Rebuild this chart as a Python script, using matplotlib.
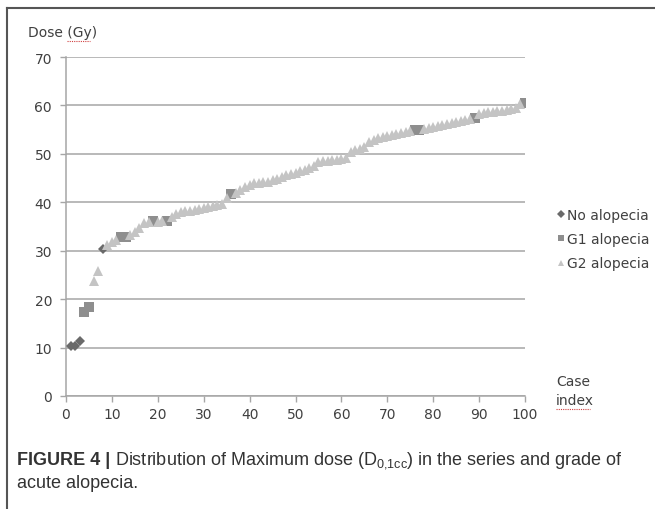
import matplotlib
matplotlib.use("Agg")
import matplotlib.pyplot as plt
from matplotlib.lines import Line2D

# ── Data ────────────────────────────────────────────────────────────────────
CASE_INDEX = list(range(1, 101))
DOSE_GY = [
    10.4, 10.4, 11.3, 17.3, 18.3, 23.8, 25.9, 30.4, 31.2, 31.8,
    32.3, 32.9, 32.9, 33.3, 33.9, 34.7, 35.8, 36.0, 36.2, 36.0,
    36.1, 36.2, 37.0, 37.5, 37.9, 38.1, 38.3, 38.5, 38.6, 38.8,
    39.1, 39.3, 39.4, 39.6, 40.8, 41.8, 42.0, 42.6, 43.2, 43.6,
    43.9, 44.0, 44.1, 44.2, 44.5, 44.9, 45.3, 45.6, 45.9, 46.1,
    46.4, 46.7, 47.0, 47.4, 48.4, 48.5, 48.6, 48.7, 48.8, 48.9,
    49.1, 50.3, 50.8, 51.1, 51.5, 52.4, 52.9, 53.2, 53.5, 53.7,
    53.9, 54.1, 54.3, 54.5, 54.7, 54.9, 54.9, 55.1, 55.3, 55.5,
    55.7, 55.9, 56.1, 56.3, 56.5, 56.7, 56.9, 57.1, 57.5, 58.3,
    58.5, 58.6, 58.7, 58.8, 58.9, 59.0, 59.2, 59.4, 60.2, 60.6,
]
# 0 = no alopecia, 1 = G1, 2 = G2
GRADE = [
    0, 0, 0, 1, 1, 2, 2, 0, 2, 2,
    2, 1, 1, 2, 2, 2, 2, 2, 1, 2,
    2, 1, 2, 2, 2, 2, 2, 2, 2, 2,
    2, 2, 2, 2, 2, 1, 2, 2, 2, 2,
    2, 2, 2, 2, 2, 2, 2, 2, 2, 2,
    2, 2, 2, 2, 2, 2, 2, 2, 2, 2,
    2, 2, 2, 2, 2, 2, 2, 2, 2, 2,
    2, 2, 2, 2, 2, 1, 1, 2, 2, 2,
    2, 2, 2, 2, 2, 2, 2, 2, 1, 2,
    2, 2, 2, 2, 2, 2, 2, 2, 2, 1,
]
SERIES = [
    ("No alopecia", "D", "#6a6a6a", 5),
    ("G1 alopecia", "s", "#8e8e8e", 7),
    ("G2 alopecia", "^", "#c4c4c4", 7.5),
]
Y_TICKS = [0, 10, 20, 30, 40, 50, 60, 70]
X_TICKS = [0, 10, 20, 30, 40, 50, 60, 70, 80, 90, 100]

TEXT = "#404040"
GRID = "#a6a6a6"
FONT = "DejaVu Sans"
CAP_FONT = "Liberation Sans"

plt.rcParams["mathtext.fontset"] = "custom"
plt.rcParams["mathtext.rm"] = CAP_FONT

fig = plt.figure(figsize=(6.55, 5.10), dpi=100)
ax = fig.add_axes([66 / 655, 1 - 397 / 510, (525 - 66) / 655, (397 - 58) / 510])

for g, (label, marker, color, size) in enumerate(SERIES):
    xs = [c for c, gr in zip(CASE_INDEX, GRADE) if gr == g]
    ys = [d for d, gr in zip(DOSE_GY, GRADE) if gr == g]
    ax.plot(xs, ys, linestyle="none", marker=marker, markersize=size,
            color=color, markeredgewidth=0, label=label, zorder=3)

ax.set_xlim(0, 100)
ax.set_ylim(0, 70)
ax.set_xticks(X_TICKS)
ax.set_yticks(Y_TICKS)
ax.yaxis.grid(True, color=GRID, linewidth=1.1)
ax.set_axisbelow(True)
for sp in ("top", "right"):
    ax.spines[sp].set_visible(False)
for sp in ("left", "bottom"):
    ax.spines[sp].set_color(GRID)
    ax.spines[sp].set_linewidth(1.1)
ax.tick_params(axis="both", colors=GRID, labelcolor=TEXT, labelsize=10,
               length=4, width=1)
for t in ax.get_xticklabels() + ax.get_yticklabels():
    t.set_fontfamily(FONT)
ax.tick_params(axis="x", pad=4)
ax.tick_params(axis="y", pad=6)

leg = ax.legend(loc="upper left", bbox_to_anchor=(548 / 655, 1 - 203 / 510),
                bbox_transform=fig.transFigure, frameon=False,
                handletextpad=0.0, handlelength=1.0, labelspacing=0.75,
                prop={"family": FONT, "size": 10}, borderaxespad=0)
for t in leg.get_texts():
    t.set_color(TEXT)
for h in leg.legend_handles:
    h.set_markersize(4)

# axis titles
fig.text(28 / 655, 1 - 33 / 510, "Dose (Gy)", fontsize=10, family=FONT,
         color=TEXT, va="center", ha="left")
fig.text(556 / 655, 1 - 382 / 510, "Case", fontsize=10, family=FONT,
         color=TEXT, va="center", ha="left")
fig.text(556 / 655, 1 - 401 / 510, "index", fontsize=10, family=FONT,
         color=TEXT, va="center", ha="left")
# spell-check squiggles
fig.add_artist(Line2D([67 / 655, 90 / 655], [1 - 42 / 510] * 2, color="#d04040",
                      linewidth=0.8, linestyle=(0, (1, 1))))
fig.add_artist(Line2D([556 / 655, 590 / 655], [1 - 410 / 510] * 2, color="#d04040",
                      linewidth=0.8, linestyle=(0, (1, 1))))

# caption
cap1 = fig.text(17 / 655, 1 - 461 / 510, "FIGURE 4 |", fontsize=13,
                family=CAP_FONT, weight="bold", color="#333333",
                va="center", ha="left")
ax.annotate(r" Distribution of Maximum dose (D$_{\mathrm{0{,}1cc}}$) in the series and grade of",
            xy=(1, 0.5), xycoords=cap1, va="center", ha="left",
            fontsize=13, family=CAP_FONT, color="#333333",
            annotation_clip=False)
fig.text(17 / 655, 1 - 484 / 510, "acute alopecia.", fontsize=13,
         family=CAP_FONT, color="#333333", va="center", ha="left")

# figure frame (left and top edges)
fig.add_artist(Line2D([7 / 655, 7 / 655], [0, 1 - 9 / 510], color="#555555", linewidth=1.5))
fig.add_artist(Line2D([7 / 655, 1], [1 - 9 / 510] * 2, color="#555555", linewidth=1.5))

fig.savefig("out.png", dpi=100)
plt.close(fig)
